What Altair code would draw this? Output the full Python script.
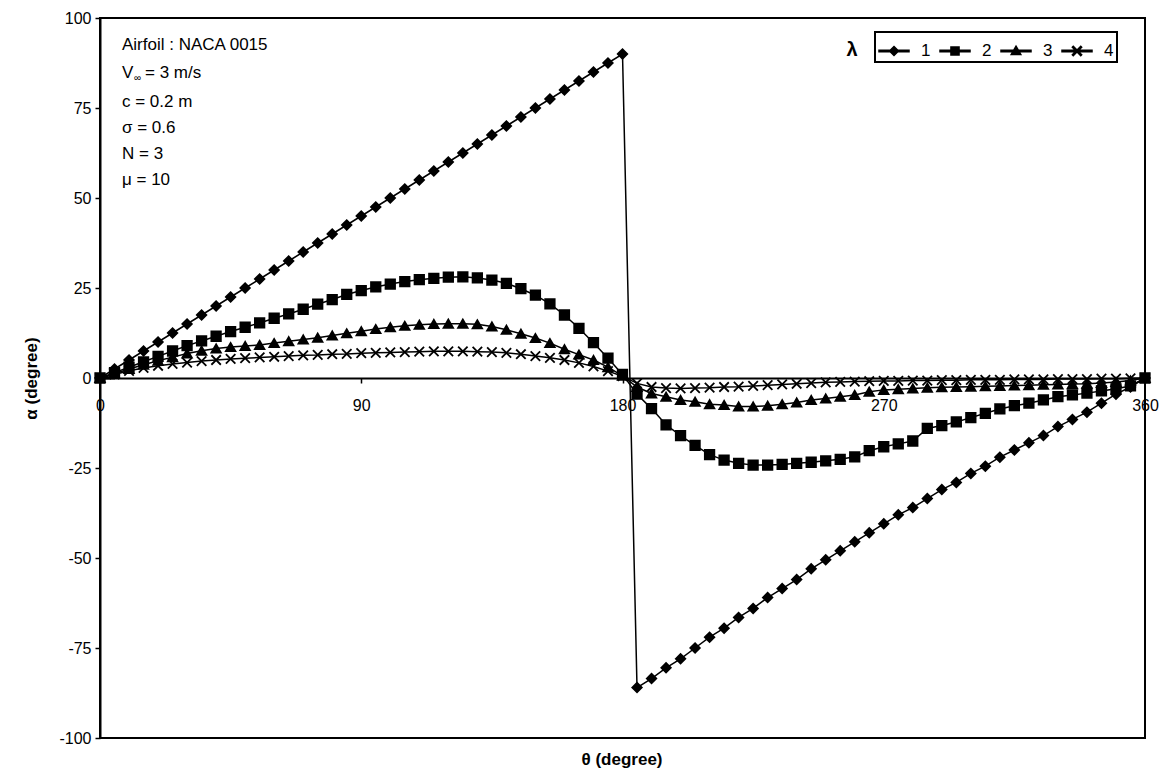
import altair as alt
import pandas as pd

FONT = "Liberation Sans"

theta = list(range(0, 361, 5))
lam_labels = ["1", "2", "3", "4"]

alpha_l1 = [0, 2.5, 5, 7.5, 10, 12.5, 15, 17.5, 20, 22.5, 25, 27.5, 30, 32.5, 35, 37.5, 40, 42.5, 45,
            47.5, 50, 52.5, 55, 57.5, 60, 62.5, 65, 67.5, 70, 72.5, 75, 77.5, 80, 82.5, 85, 87.5, 90,
            -86, -83.5, -80.5, -78, -75, -72, -69.5, -66.5, -64, -61,
            -58.5, -56, -53, -50.5, -48, -45.5, -43, -40.5, -38, -36,
            -33.5, -31, -29, -26.5, -24.5, -22, -20, -18, -16, -13.5,
            -11.5, -9.5, -7, -4.5, -2.5, 0]
alpha_l2 = [0, 1.5, 3, 4.5, 6, 7.5, 9, 10.3, 11.6, 12.9, 14.1, 15.3, 16.6, 17.8, 19.1, 20.5, 21.8, 23.2, 24.3,
            25.3, 26.1, 26.8, 27.3, 27.7, 28.0, 28.1, 27.8, 27.2, 26.3, 24.8, 23.0, 20.6, 17.5, 13.8, 9.8, 5.5, 1.0,
            -4.5, -8.5, -13, -16, -18.7, -21.3, -22.8, -23.7, -24.2, -24.2,
            -24, -23.7, -23.4, -23, -22.6, -21.9, -20.2, -19.1, -18.3, -17.5,
            -14, -13.2, -12.2, -11, -9.8, -8.6, -7.7, -7.0, -6.1, -5.2,
            -4.7, -4.2, -3.6, -3.0, -2.2, 0]
alpha_l3 = [0, 1.2, 2.5, 3.7, 4.8, 5.8, 6.8, 7.6, 8.2, 8.6, 8.9, 9.2, 9.7, 10.2, 10.7, 11.2, 11.8, 12.4, 13.0,
            13.6, 14.1, 14.5, 14.8, 15.0, 15.1, 15.1, 14.9, 14.3, 13.4, 12.3, 11.1, 9.7, 8.0, 6.5, 5.0, 3.0, 0.6,
            -2.5, -4.3, -5.2, -6.1, -6.6, -7.3, -7.5, -7.9, -7.9, -7.7,
            -7.3, -6.8, -6.1, -5.7, -5.2, -4.7, -3.8, -3.3, -3.1, -2.9,
            -2.7, -2.6, -2.5, -2.4, -2.3, -2.2, -2.1, -2.0, -1.9, -1.8,
            -1.7, -1.6, -1.4, -1.1, -0.7, 0]
alpha_l4 = [0, 1.0, 2.0, 2.8, 3.4, 3.9, 4.3, 4.7, 5.0, 5.3, 5.5, 5.7, 5.9, 6.1, 6.3, 6.4, 6.6, 6.7, 6.9,
            7.0, 7.1, 7.2, 7.3, 7.4, 7.4, 7.4, 7.3, 7.2, 7.0, 6.6, 6.1, 5.6, 5.0, 4.2, 3.2, 1.9, 0.5,
            -1.5, -2.5, -2.8, -2.9, -2.8, -2.7, -2.5, -2.4, -2.2, -2.0,
            -1.8, -1.6, -1.4, -1.2, -1.1, -1.0, -0.9, -0.8, -0.8, -0.7,
            -0.7, -0.6, -0.6, -0.5, -0.5, -0.5, -0.4, -0.4, -0.4, -0.3,
            -0.3, -0.3, -0.2, -0.2, -0.1, 0]

x_ticks = [0, 90, 180, 270, 360]
y_ticks = [-100, -75, -50, -25, 0, 25, 50, 75, 100]

notes = ["Airfoil : NACA 0015", None, "c = 0.2 m", "σ = 0.6", "N = 3", "μ = 10"]

marker_shapes = ["diamond", "square", "triangle-up", "M-1,-1L1,1M-1,1L1,-1"]
# legend symbols: fill-only paths (thin bar for the line + marker)
LINE = "M-1,-0.05L1,-0.05L1,0.05L-1,0.05Z"
legend_shapes = [
    LINE + "M0,-0.3L0.3,0L0,0.3L-0.3,0Z",
    LINE + "M-0.27,-0.27L0.27,-0.27L0.27,0.27L-0.27,0.27Z",
    LINE + "M0,-0.32L0.32,0.24L-0.32,0.24Z",
    LINE + "M-0.25,-0.31L0.31,0.25L0.25,0.31L-0.31,-0.25Z"
         + "M-0.31,0.25L0.25,-0.31L0.31,-0.25L-0.25,0.31Z",
]

rows = []
for lab, vals in zip(lam_labels, [alpha_l1, alpha_l2, alpha_l3, alpha_l4]):
    for t, a in zip(theta, vals):
        rows.append({"theta": t, "alpha": a, "lam": lab})
df = pd.DataFrame(rows)
legend_df = df[df["theta"] == 0]


def txt(s, x, y, size=17, weight="normal", align="left", baseline="middle"):
    return alt.Chart(pd.DataFrame({"k": [0]})).mark_text(
        align=align, baseline=baseline, fontSize=size, fontWeight=weight, font=FONT, color="black"
    ).encode(x=alt.value(x), y=alt.value(y), text=alt.value(s))


def build(legend_stroke_width=True):
    x_enc = alt.X("theta:Q", scale=alt.Scale(domain=[0, 360], nice=False),
                  axis=alt.Axis(values=x_ticks, offset=-360, title=None, tickSize=5, labelPadding=14,
                                labelFlush=False, grid=False))
    y_enc = alt.Y("alpha:Q", scale=alt.Scale(domain=[-100, 100], nice=False),
                  axis=alt.Axis(values=y_ticks, title="α (degree)", tickSize=5, labelPadding=4,
                                labelFlush=False, grid=False, titlePadding=18,
                                labelExpr="'' + datum.value"))

    lines = alt.Chart(df).mark_line(color="black", strokeWidth=1.5).encode(
        x=x_enc, y=y_enc, detail="lam:N")

    points = alt.Chart(df).mark_point(filled=True, color="black", stroke="black", strokeWidth=1.8,
                                      size=90, opacity=1).encode(
        x="theta:Q", y="alpha:Q",
        shape=alt.Shape("lam:N", scale=alt.Scale(domain=lam_labels, range=marker_shapes), legend=None))

    legend_layer = alt.Chart(legend_df).mark_point(filled=True, color="black", stroke="black",
                                                   strokeWidth=0.5, size=900, opacity=1, clip=True).encode(
        x="theta:Q", y="alpha:Q",
        shape=alt.Shape("lam:N", scale=alt.Scale(domain=lam_labels, range=legend_shapes),
                        legend=alt.Legend(orient="none", legendX=775, legendY=14, direction="horizontal",
                                          title=None, strokeColor="black", padding=3,
                                          symbolSize=900, symbolFillColor="black",
                                          labelFontSize=17, labelFont=FONT, labelOffset=11,
                                          columnPadding=6)))

    note_ys = [27, 55, 84, 110, 136, 162]
    texts = []
    for s, y in zip(notes, note_ys):
        if s is not None:
            texts.append(txt(s, 22, y))
    # V with subscript infinity
    texts.append(txt("V", 22, note_ys[1]))
    texts.append(txt("∞", 34, note_ys[1] + 5, size=10))
    texts.append(txt("= 3 m/s", 45, note_ys[1]))

    texts.append(txt("λ", 752, 32, size=20, weight="bold", align="center"))
    texts.append(txt("θ (degree)", 522, 742, size=17, weight="bold", align="center"))

    ch = alt.layer(lines, points, legend_layer, *texts).resolve_scale(
        shape="independent"
    ).properties(
        width=1045, height=720,
        autosize=alt.AutoSizeParams(type="none"),
        padding={"left": 92, "top": 10, "right": 15, "bottom": 31},
    ).configure_view(
        stroke="black", strokeWidth=2
    ).configure_axis(
        domainColor="black", domainWidth=2, tickColor="black", tickWidth=1.5,
        labelFont=FONT, labelFontSize=16, labelColor="black",
        titleFont=FONT, titleFontSize=17, titleFontWeight="bold", titleColor="black",
    )
    if legend_stroke_width:
        ch = ch.configure_legend(strokeWidth=2)
    return ch


try:
    chart = build(True)
    chart.to_dict()
except Exception:
    chart = build(False)

chart.save("out.html", embed_options={"renderer": "svg", "actions": False})
